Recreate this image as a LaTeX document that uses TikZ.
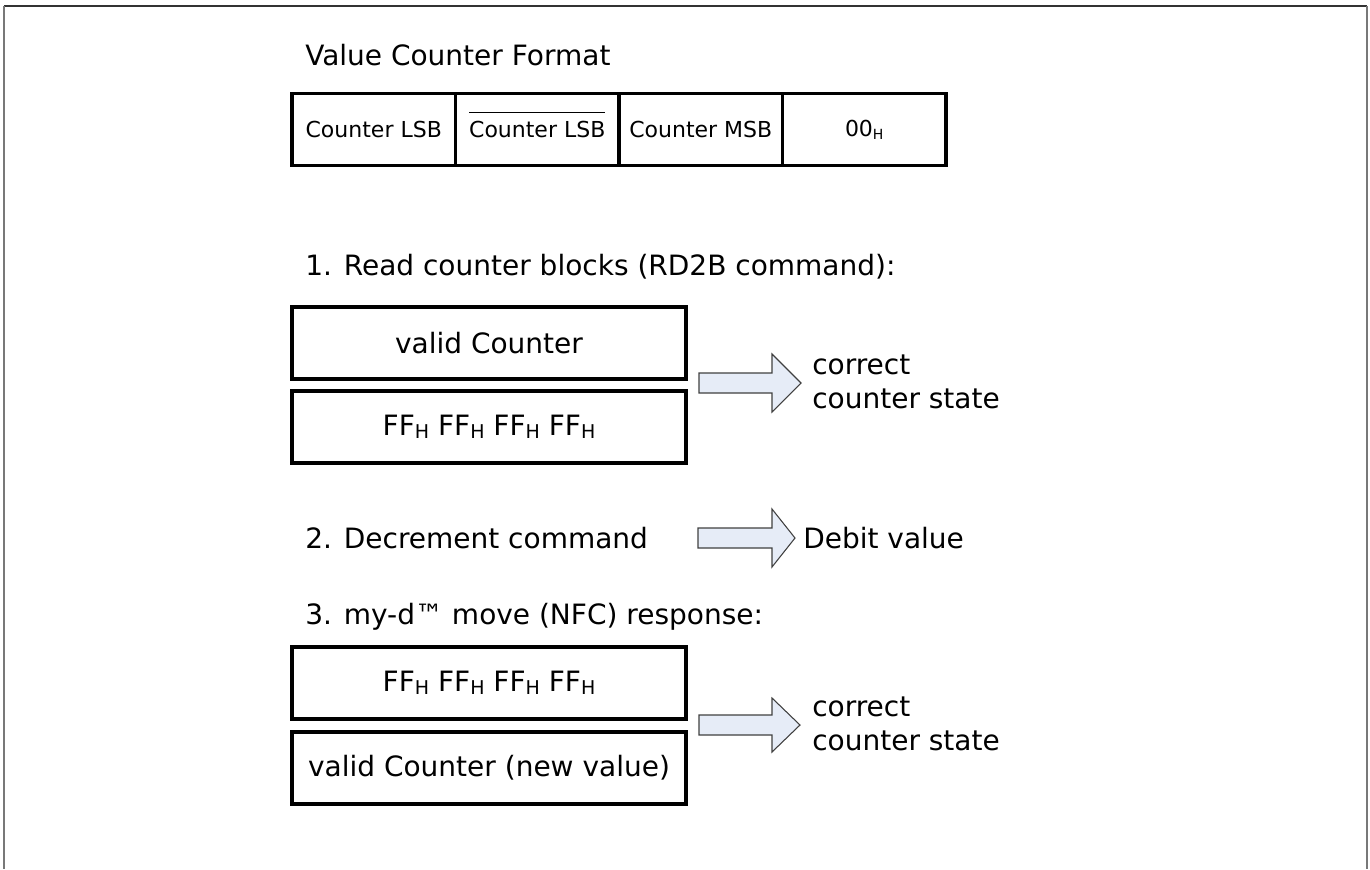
\documentclass[tikz,border=0pt]{standalone}
\usepackage{fontspec}
\setmainfont{DejaVu Sans}
\usepackage{tikz}
\definecolor{arrowfill}{RGB}{230,236,247}
\definecolor{framegray}{RGB}{120,120,120}
\newsavebox{\ovbox}
\newcommand{\ffh}{FF\raisebox{-2pt}{\fontsize{14.25}{16}\selectfont H}}
\newcommand{\overbartext}[1]{\sbox{\ovbox}{#1}\rlap{\raisebox{\dimexpr\ht\ovbox+6pt\relax}[0pt][0pt]{\rule{\wd\ovbox}{0.75pt}}}\usebox{\ovbox}}

\begin{document}
\begin{tikzpicture}[x=0.75pt,y=-0.75pt,
    cell/.style={draw,line width=2.5pt,minimum width=122.6pt,minimum height=54pt,
        inner sep=0pt,outer sep=0pt,font=\fontsize{16.5}{18}\selectfont},
    block/.style={draw,line width=2.5pt,minimum width=295.5pt,minimum height=54pt,
        inner sep=0pt,outer sep=0pt,font=\fontsize{21}{25}\selectfont},
    headtext/.style={anchor=base west,inner sep=0pt,font=\fontsize{21}{25}\selectfont},
    result/.style={anchor=west,align=left,inner sep=0pt,font=\fontsize{21}{25.5}\selectfont},
    fatarrow/.style={draw=black!75,fill=arrowfill,line width=0.8pt}]
            \useasboundingbox (0,0) rectangle (1370,869);

            % Frame
            \draw[black!80,line width=1.5pt] (4,6) -- (1367,6);
            \draw[framegray,line width=1.5pt] (4,6) -- (4,869) (1367,6) -- (1367,869);

            % Value counter format
            \node[headtext] (title) at (305,65) {Value Counter Format};
            \node[cell] (lsb) at (373.75,129.5) {Counter LSB};
            \node[cell] (nlsb) at (537.25,129.5) {\overbartext{Counter LSB}};
            \node[cell] (msb) at (700.75,129.5) {Counter MSB};
            \node[cell] (zero) at (864.25,129.5) {00\raisebox{-2.5pt}{\fontsize{10.5}{12}\selectfont H}};

            % 1. Read
            \node[headtext] (step1) at (305,275) {1. Read counter blocks (RD2B command):};
            \node[block] (valid1) at (489,343) {valid Counter};
            \node[block] (ff1) at (489,427) {\ffh\ \ffh\ \ffh\ \ffh};
            \coordinate (arrA) at (699,383);
            \draw[fatarrow,shift={(arrA)}] (0,-10) -- (73,-10) -- (73,-29) -- (102,0)
                -- (73,29) -- (73,10) -- (0,10) -- cycle;
            \node[result] (state1) at (812,382) {correct\\counter state};

            % 2. Decrement
            \node[headtext] (step2) at (305,548) {2. Decrement command};
            \coordinate (arrB) at (698,538);
            \draw[fatarrow,shift={(arrB)}] (0,-10) -- (74,-10) -- (74,-29) -- (97,0)
                -- (74,29) -- (74,10) -- (0,10) -- cycle;
            \node[headtext] (debit) at (803,548) {Debit value};

            % 3. Response
            \node[headtext] (step3) at (305,624) {3. my-d™ move (NFC) response:};
            \node[block] (ff2) at (489,683) {\ffh\ \ffh\ \ffh\ \ffh};
            \node[block] (valid2) at (489,768) {valid Counter (new value)};
            \coordinate (arrC) at (699,725);
            \draw[fatarrow,shift={(arrC)}] (0,-10) -- (73,-10) -- (73,-27) -- (101,0)
                -- (73,27) -- (73,10) -- (0,10) -- cycle;
            \node[result] (state2) at (812,724) {correct\\counter state};

\end{tikzpicture}
\end{document}
